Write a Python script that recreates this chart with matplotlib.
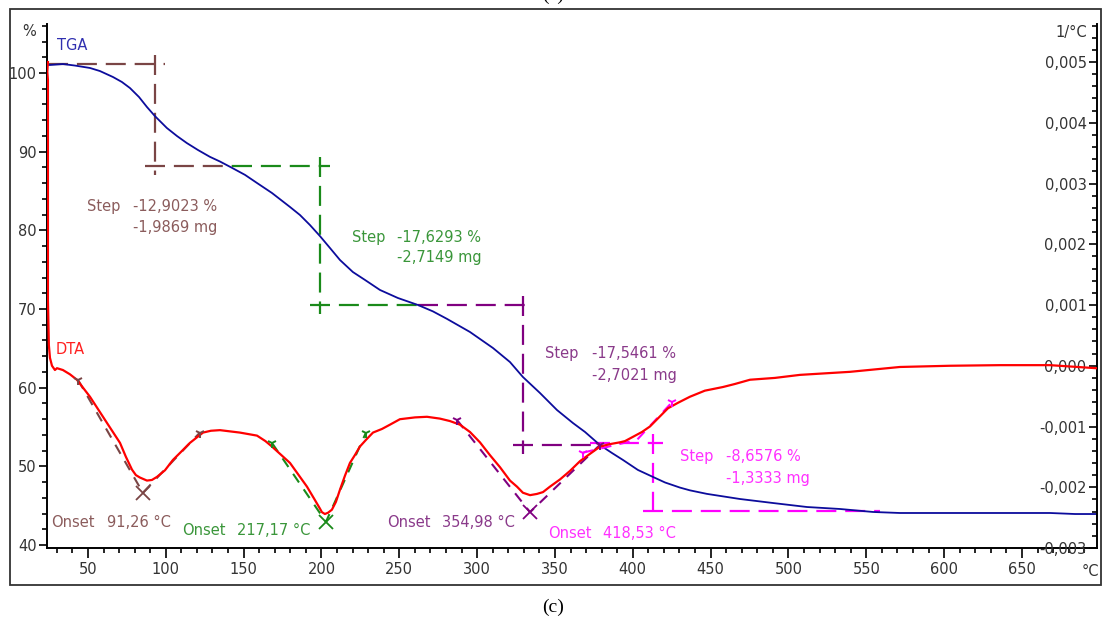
import numpy as np
import matplotlib
matplotlib.use("Agg")
import matplotlib.pyplot as plt
from matplotlib.ticker import MultipleLocator, FuncFormatter
from matplotlib.patches import Rectangle

plt.rcParams['font.family'] = ['DejaVu Sans']

# TGA curve (temperature in degC, mass in %)
tga_temp = [24.3, 25.6, 33.9, 41.6, 51.3, 57.7, 66.1, 71.8, 77.0, 82.8,
            87.9, 93.0, 100.7, 107.2, 113.5, 120.7, 128.3, 134.8, 142.5, 150.9,
            158.6, 168.2, 179.8, 186.2, 192.6, 199.0, 205.5, 211.9, 220.2, 228.0,
            237.6, 249.1, 262.0, 271.6, 280.6, 295.4, 310.2, 321.1, 329.4, 340.4,
            351.3, 361.6, 369.3, 378.9, 386.6, 393.7, 403.3, 413.0, 420.7, 430.3,
            436.7, 447.6, 468.8, 490.0, 511.9, 533.1, 554.3, 571.6, 635.9, 668.0,
            684.1, 697.5]
tga_mass = [101.02, 101.02, 101.14, 100.95, 100.64, 100.25, 99.49, 98.86, 98.09, 96.95,
            95.68, 94.53, 93.01, 91.99, 91.10, 90.21, 89.35, 88.75, 87.95, 87.05,
            86.02, 84.75, 82.97, 81.95, 80.68, 79.28, 77.75, 76.23, 74.70, 73.69,
            72.42, 71.40, 70.51, 69.70, 68.75, 67.08, 65.04, 63.26, 61.36, 59.32,
            57.16, 55.50, 54.37, 52.71, 51.70, 50.81, 49.54, 48.65, 47.95, 47.30,
            46.95, 46.50, 45.85, 45.34, 44.83, 44.58, 44.20, 44.07, 44.07, 44.07,
            43.94, 43.94]

# DTA curve (temperature in degC, signal in 1e-3 1/degC)
dta_temp = [24.3, 23.9, 24.3, 24.3, 24.3, 24.9, 25.6, 26.9, 28.8, 30.1,
            33.9, 38.4, 42.9, 51.3, 62.2, 70.6, 74.4, 78.3, 80.8, 83.4,
            87.9, 91.1, 94.3, 99.5, 104.6, 109.7, 115.5, 123.9, 129.0, 134.8,
            147.6, 158.6, 164.0, 168.2, 179.8, 190.7, 195.8, 199.0, 200.3, 202.2,
            204.2, 206.7, 209.3, 211.9, 215.1, 218.3, 221.5, 224.7, 228.6, 233.1,
            238.9, 244.0, 250.4, 260.1, 267.8, 276.1, 282.5, 289.0, 295.4, 301.8,
            308.2, 314.7, 321.1, 325.6, 329.4, 334.0, 338.4, 342.3, 346.8, 353.3,
            359.7, 366.1, 372.5, 379.0, 385.3, 391.8, 395.0, 400.1, 405.9, 411.0,
            416.8, 422.6, 429.0, 436.7, 446.3, 457.9, 465.6, 475.3, 491.3, 507.4,
            539.5, 571.6, 603.7, 635.9, 668.0, 697.5]
dta_val = np.array([5.00, 4.84, 4.70, 3.55, 1.08, 0.34, 0.13, 0.0, -0.07, -0.04,
                    -0.07, -0.14, -0.23, -0.51, -0.94, -1.27, -1.50, -1.71, -1.80, -1.84,
                    -1.89, -1.88, -1.83, -1.72, -1.55, -1.42, -1.27, -1.10, -1.07, -1.06,
                    -1.10, -1.15, -1.24, -1.33, -1.60, -1.99, -2.21, -2.35, -2.41, -2.44,
                    -2.42, -2.37, -2.24, -2.04, -1.81, -1.60, -1.47, -1.33, -1.22, -1.10,
                    -1.04, -0.97, -0.88, -0.85, -0.84, -0.87, -0.91, -0.97, -1.09, -1.26,
                    -1.47, -1.67, -1.89, -1.99, -2.09, -2.13, -2.11, -2.08, -1.99, -1.87,
                    -1.73, -1.57, -1.45, -1.33, -1.29, -1.26, -1.24, -1.17, -1.09, -1.00,
                    -0.85, -0.70, -0.61, -0.51, -0.41, -0.35, -0.30, -0.23, -0.20, -0.15,
                    -0.10, -0.02, 0.0, 0.01, 0.01, -0.04]) * 1e-3

# mass loss steps
step_t = [93.0, 199.0, 329.4, 413.0]
step_upper = [101.14, 88.18, 70.51, 52.97]
step_lower = [88.18, 70.51, 52.71, 44.32]
step_start = [24.3, 142.5, 262.0, 372.5]
step_end = [142.5, 262.0, 378.9, 558.8]
step_pct = ["-12,9023 %", "-17,6293 %", "-17,5461 %", "-8,6576 %"]
step_mg = ["-1,9869 mg", "-2,7149 mg", "-2,7021 mg", "-1,3333 mg"]

# DTA onset tangents (three points each, signal in 1e-3 1/degC)
onset_t = [[43.6, 85.3, 121.9], [168.2, 202.9, 228.6],
           [287.0, 334.0, 379.0], [368.0, 402.7, 425.2]]
onset_v = [[-0.23, -2.09, -1.10], [-1.27, -2.57, -1.10],
           [-0.89, -2.41, -1.30], [-1.43, -1.22, -0.60]]
onset_lbl = ["91,26 °C", "217,17 °C", "354,98 °C", "418,53 °C"]

line_cols = ['#7a4545', '#1a8a1a', '#800080', '#ff00ff']
text_cols = ['#8b5c5c', '#3a963a', '#8a3a8a', '#ff30ff']

# label positions (degC, %)
step_txt_pos = [(49.4, 82.97, 78.9, 80.3), (219.6, 79.15, 248.5, 76.5),
                (343.6, 64.3, 373.8, 61.5), (430.3, 51.2, 459.8, 48.4)]
onset_txt_pos = [(26.2, 42.9, 62.2), (110.4, 41.9, 145.7),
                 (242.1, 42.8, 277.4), (345.5, 41.5, 380.8)]

W, H = 1106, 624
fig = plt.figure(figsize=(W / 100, H / 100), dpi=100)
ax = fig.add_axes([47 / W, 1 - 548 / H, (1097 - 47) / W, (548 - 24) / H])
ax2 = ax.twinx()

tick_col = '#333333'
fs = 10.5

ax.plot(tga_temp, tga_mass, color='#0c0c9c', lw=1.3, zorder=5,
        solid_joinstyle='round')
ax2.plot(dta_temp, dta_val, color='#ff0000', lw=1.6, zorder=5,
         solid_joinstyle='round')

ext_t, ext_m = 6.4, 1.2
dash = (0, (9, 4))
for i in range(4):
    c = line_cols[i]
    t = step_t[i]
    ax.plot([step_start[i], t + ext_t], [step_upper[i]] * 2, color=c, lw=1.6, ls=dash, zorder=3)
    ax.plot([t, t], [step_upper[i] + ext_m, step_lower[i] - ext_m], color=c, lw=1.6, ls=dash, zorder=3)
    ax.plot([t - ext_t, step_end[i]], [step_lower[i]] * 2, color=c, lw=1.6, ls=dash, zorder=3)
    x1, y1, x2, y2 = step_txt_pos[i]
    ax.text(x1, y1, "Step", color=text_cols[i], fontsize=fs, va='center', ha='left')
    ax.text(x2, y1, step_pct[i], color=text_cols[i], fontsize=fs, va='center', ha='left')
    ax.text(x2, y2, step_mg[i], color=text_cols[i], fontsize=fs, va='center', ha='left')

for i in range(4):
    c = line_cols[i]
    ts = onset_t[i]
    vs = np.array(onset_v[i]) * 1e-3
    ax2.plot(ts, vs, color=c, lw=1.5, ls=(0, (5, 4)), zorder=4)
    ax2.plot([ts[0], ts[2]], [vs[0], vs[2]], ls='none', marker='1', ms=7, mew=1.4, color=c, zorder=6)
    if i < 3:
        ax2.plot([ts[1]], [vs[1]], ls='none', marker='x', ms=10, mew=1.3, color=c, zorder=6)
    x1, y1, x2 = onset_txt_pos[i]
    ax.text(x1, y1, "Onset", color=text_cols[i], fontsize=fs, va='center', ha='left')
    ax.text(x2, y1, onset_lbl[i], color=text_cols[i], fontsize=fs, va='center', ha='left')

ax.text(30.1, 103.56, "TGA", color='#3030b0', fontsize=fs, va='center', ha='left')
ax.text(29.4, 64.9, "DTA", color='#ff2020', fontsize=fs, va='center', ha='left')

# axes limits and ticks
ax.set_xlim(23.7, 698.2)
ax.set_ylim(39.62, 106.23)
ax2.set_ylim(-0.003, 0.005626)

ax.xaxis.set_major_locator(MultipleLocator(50))
ax.xaxis.set_minor_locator(MultipleLocator(10))
ax.yaxis.set_major_locator(MultipleLocator(10))
ax.yaxis.set_minor_locator(MultipleLocator(2))
ax2.yaxis.set_major_locator(MultipleLocator(0.001))
ax2.yaxis.set_minor_locator(MultipleLocator(0.0002))


def comma_fmt(v, pos):
    s = f"{v:.3f}".replace('.', ',')
    if s == "-0,000":
        s = "0,000"
    return s


ax2.yaxis.set_major_formatter(FuncFormatter(comma_fmt))
ax.xaxis.set_major_formatter(FuncFormatter(lambda v, p: f"{v:.0f}"))

for a in (ax, ax2):
    a.spines['top'].set_visible(False)
    for s in a.spines.values():
        s.set_linewidth(1.4)
        s.set_color('black')
ax.spines['right'].set_visible(False)
ax2.spines['left'].set_visible(False)
ax2.spines['bottom'].set_visible(False)

ax.tick_params(axis='y', which='major', direction='out', length=6, width=1.2,
               labelsize=fs, labelcolor=tick_col, pad=1.5)
ax.tick_params(axis='y', which='minor', direction='out', length=3.5, width=1.2)
ax.tick_params(axis='x', which='major', direction='out', length=7, width=1.2,
               labelsize=fs, labelcolor=tick_col, pad=3)
ax.tick_params(axis='x', which='minor', direction='out', length=3.5, width=1.2)
ax2.tick_params(axis='y', which='major', direction='in', length=6, width=1.2,
                labelsize=fs, labelcolor=tick_col, pad=-7.5)
ax2.tick_params(axis='y', which='minor', direction='in', length=3.5, width=1.2)
for lbl in ax2.get_yticklabels():
    lbl.set_horizontalalignment('right')

# unit labels
fig.text(29 / W, 1 - 32 / H, "%", fontsize=fs, color=tick_col, ha='center', va='center')
fig.text(1087 / W, 1 - 32 / H, "1/°C", fontsize=fs, color=tick_col, ha='right', va='center')
fig.text(1090 / W, 1 - 571 / H, "°C", fontsize=fs, color=tick_col, ha='center', va='center')

# outer frame and captions
fig.patches.append(Rectangle((10 / W, 1 - 585 / H), 1091 / W, 576 / H,
                             transform=fig.transFigure, fill=False, lw=1.3, ec='#333333'))
fig.text(553 / W, 1 - 607 / H, "(c)", fontsize=14, family='Liberation Serif',
         ha='center', va='center', color='black')
fig.text(553 / W, 1.0, "(c)", fontsize=14, family='Liberation Serif',
         ha='center', va='baseline', color='black')

fig.savefig("out.png", dpi=100)
